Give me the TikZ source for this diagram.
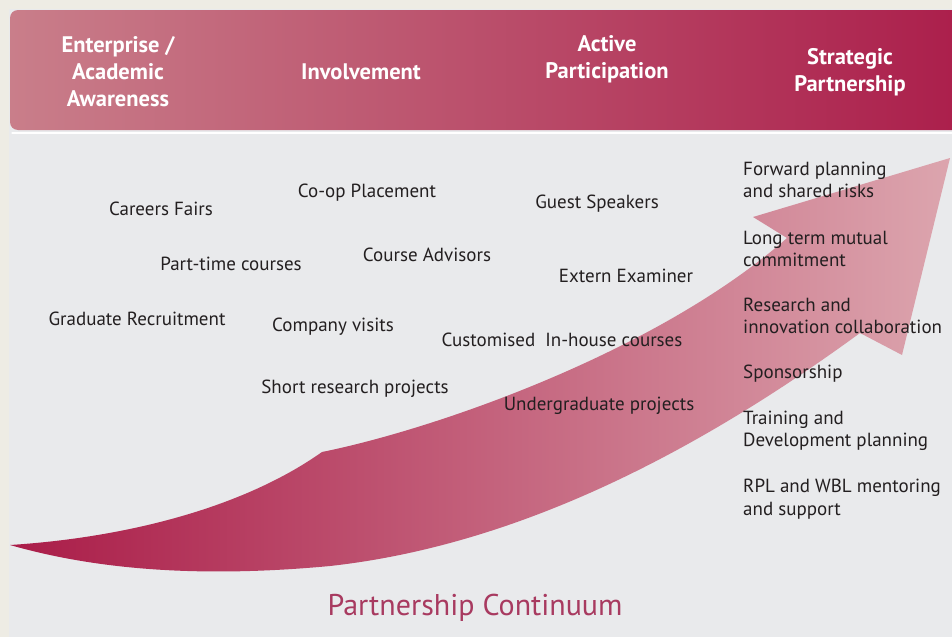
\documentclass[tikz,border=0pt]{standalone}
\usepackage{fontspec}
\setmainfont{PT Sans}
\definecolor{bgcream}{RGB}{238,236,228}
\definecolor{bggray}{RGB}{233,234,236}
\definecolor{wineL}{RGB}{201,126,138}
\definecolor{wineM}{RGB}{186,84,107}
\definecolor{wineR}{RGB}{171,30,75}
\definecolor{arrowL}{RGB}{170,28,72}
\definecolor{arrowR}{RGB}{220,165,174}
\definecolor{titlecol}{RGB}{168,58,96}
\definecolor{txt}{RGB}{35,31,32}
\begin{document}
\begin{tikzpicture}[x=1pt,y=-1pt, line join=round, line cap=round,
  hdr/.style={text=white, font=\fontsize{22.5}{27}\selectfont\bfseries, align=center, inner sep=0pt},
  lbl/.style={text=txt, font=\fontsize{19}{22.5}\selectfont, inner sep=0pt},
  side/.style={lbl, anchor=west, align=left}]
  \useasboundingbox (0,0) rectangle (952,637);
  \fill[bgcream] (0,0) rectangle (952,637);
  \fill[bggray] (9,9) rectangle (952,637);
  % banner
  \draw[white, line width=1.2pt] (12,133) -- (952,133);
  \shade[left color=wineL, middle color=wineM, right color=wineR, rounded corners=8pt] (10,10) rectangle (970,130);
  \node[hdr] (aware) at (118,72) {Enterprise /\\Academic\\Awareness};
  \node[hdr] (involve) at (361,72) {Involvement};
  \node[hdr] (active) at (607,59) {Active\\Participation};
  \node[hdr] (strat) at (850,72) {Strategic\\Partnership};
  % arrow
  \shade[left color=arrowL, right color=arrowR]
    (10,545) .. controls (120,538) and (240,510) .. (322,452)
    .. controls (440,428) and (660,350) .. (787,238)
    -- (753,217) -- (950,158) -- (902,355) -- (860,333)
    .. controls (700,450) and (520,545) .. (330,566)
    .. controls (180,580) and (80,565) .. (10,545) -- cycle;
  % activities
  \node[lbl] (fairs) at (161,209) {Careers Fairs};
  \node[lbl] (coop) at (367,193) {Co-op Placement};
  \node[lbl] (guest) at (597,204) {Guest Speakers};
  \node[lbl] (parttime) at (231,264) {Part-time courses};
  \node[lbl] (advisors) at (427,255) {Course Advisors};
  \node[lbl] (extern) at (626,276) {Extern Examiner};
  \node[lbl] (gradrec) at (137,319) {Graduate Recruitment};
  \node[lbl] (visits) at (333,327) {Company visits};
  \node[lbl] (inhouse) at (562,340) {Customised\ \ In-house courses};
  \node[lbl] (shortres) at (355,389) {Short research projects};
  \node[lbl] (ugproj) at (599,406) {Undergraduate projects};
  % strategic column
  \node[side] (forward) at (743,180) {Forward planning\\and shared risks};
  \node[side] (longterm) at (743,249) {Long term mutual\\commitment};
  \node[side] (research) at (743,316) {Research and\\innovation collaboration};
  \node[side] (sponsor) at (743,374) {Sponsorship};
  \node[side] (training) at (743,431) {Training and\\Development planning};
  \node[side] (mentor) at (743,499) {RPL and WBL mentoring\\and support};
  \node[text=titlecol, font=\fontsize{30}{32}\selectfont] (title) at (475,608) {Partnership Continuum};
\end{tikzpicture}
\end{document}
